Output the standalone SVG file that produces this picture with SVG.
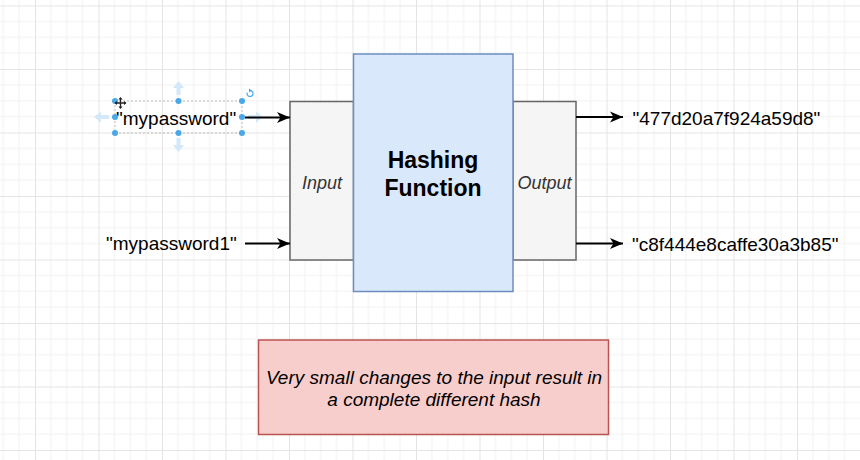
<svg xmlns="http://www.w3.org/2000/svg" width="860" height="460" viewBox="0 0 860 460">
  <defs>
    <pattern id="grid" patternUnits="userSpaceOnUse" x="35" y="5.5" width="63.5" height="63.5">
      <path d="M15.875 0V63.5M31.75 0V63.5M47.625 0V63.5M0 15.875H63.5M0 31.75H63.5M0 47.625H63.5" stroke="#f2f2f2" stroke-width="1" fill="none"/>
      <path d="M0.5 0V63.5M0 0.5H63.5" stroke="#e4e4e4" stroke-width="1" fill="none"/>
    </pattern>
    <marker id="arrow" markerUnits="userSpaceOnUse" markerWidth="14" markerHeight="12" refX="13" refY="6" orient="auto">
      <path d="M0,0.5 L13,6 L0,11.5 L3.5,6 Z" fill="#000"/>
    </marker>
    <style>
      .lbl { font-family: "Liberation Sans", Arial, sans-serif; font-size: 19px; fill: #000; }
      .box { fill: #f5f5f5; stroke: #666666; stroke-width: 1.5; }
      .side { font-family: "Liberation Sans", Arial, sans-serif; font-size: 18px; font-style: italic; fill: #333333; text-anchor: middle; }
      .conn { stroke: #000; stroke-width: 1.8; fill: none; marker-end: url(#arrow); }
      .handle { fill: #4aa8e6; }
      .ghost { fill: #d3e8f8; }
    </style>
  </defs>

  <rect width="860" height="460" fill="#ffffff"/>
  <rect width="860" height="460" fill="url(#grid)"/>

  <g id="input-box">
    <rect class="box" x="290" y="101.5" width="63.5" height="158.5"/>
    <text class="side" x="322" y="189">Input</text>
  </g>

  <g id="output-box">
    <rect class="box" x="513" y="101.5" width="63" height="158.5"/>
    <text class="side" x="544.5" y="189">Output</text>
  </g>

  <g id="hashing-function">
    <rect x="353.5" y="54" width="159.5" height="237.5" fill="#dae8fc" stroke="#6c8ebf" stroke-width="1.5"/>
    <text x="433" y="168" font-family="'Liberation Sans', Arial, sans-serif" font-size="23" font-weight="bold" text-anchor="middle" fill="#000">Hashing</text>
    <text x="433" y="196" font-family="'Liberation Sans', Arial, sans-serif" font-size="23" font-weight="bold" text-anchor="middle" fill="#000">Function</text>
  </g>

  <g id="label-mypassword">
    <path class="ghost" d="M178.5 81 L173 88 H176.5 V95 H180.5 V88 H184 Z"/>
    <path class="ghost" d="M178.5 152 L173 145 H176.5 V138 H180.5 V145 H184 Z"/>
    <path class="ghost" d="M94 117 L101 111.5 V115 H109 V119 H101 V122.5 Z"/>
    <path class="ghost" d="M263 117 L256 111.5 V115 H248 V119 H256 V122.5 Z"/>
    <rect x="115" y="101" width="127" height="32" fill="none" stroke="#b0b0b0" stroke-width="0.8" stroke-dasharray="2 2"/>
    <text class="lbl" x="116" y="124.5">"mypassword"</text>
    <circle class="handle" cx="115" cy="101" r="3"/>
    <circle class="handle" cx="178.5" cy="101" r="3"/>
    <circle class="handle" cx="242" cy="101" r="3"/>
    <circle class="handle" cx="115" cy="117" r="3"/>
    <circle class="handle" cx="242" cy="117" r="3"/>
    <circle class="handle" cx="115" cy="133" r="3"/>
    <circle class="handle" cx="178.5" cy="133" r="3"/>
    <circle class="handle" cx="242" cy="133" r="3"/>
    <path d="M247.2 92.5 A3 3 0 1 0 250 90.5" fill="none" stroke="#4aa8e6" stroke-width="1.2"/>
    <path d="M249 88.5 L252 90.5 L249 92.5 Z" fill="#4aa8e6"/>
    <path d="M120.5 98 V108 M115.5 103 H125.5" stroke="#222" stroke-width="1.3"/>
    <path d="M120.5 97 L118.5 99.5 H122.5 Z M120.5 109 L118.5 106.5 H122.5 Z M114.5 103 L117 101 V105 Z M126.5 103 L124 101 V105 Z" fill="#222"/>
  </g>

  <g id="label-mypassword1">
    <text class="lbl" x="106" y="250">"mypassword1"</text>
  </g>

  <g id="hash-1">
    <text class="lbl" x="632.5" y="124.5">"477d20a7f924a59d8"</text>
  </g>

  <g id="hash-2">
    <text class="lbl" x="632" y="251">"c8f444e8caffe30a3b85"</text>
  </g>

  <g id="note">
    <rect x="258.5" y="340" width="350" height="94.5" fill="#f8cecc" stroke="#b85450" stroke-width="1.5"/>
    <text x="434" y="384" font-family="'Liberation Sans', Arial, sans-serif" font-size="19" font-style="italic" text-anchor="middle" fill="#000">Very small changes to the input result in</text>
    <text x="434" y="406" font-family="'Liberation Sans', Arial, sans-serif" font-size="19" font-style="italic" text-anchor="middle" fill="#000">a complete different hash</text>
  </g>

  <g id="connectors">
    <line class="conn" x1="245" y1="117.5" x2="290" y2="117.5"/>
    <line class="conn" x1="245" y1="243.5" x2="290" y2="243.5"/>
    <line class="conn" x1="576" y1="117" x2="623" y2="117"/>
    <line class="conn" x1="576" y1="243.5" x2="623" y2="243.5"/>
  </g>
</svg>
